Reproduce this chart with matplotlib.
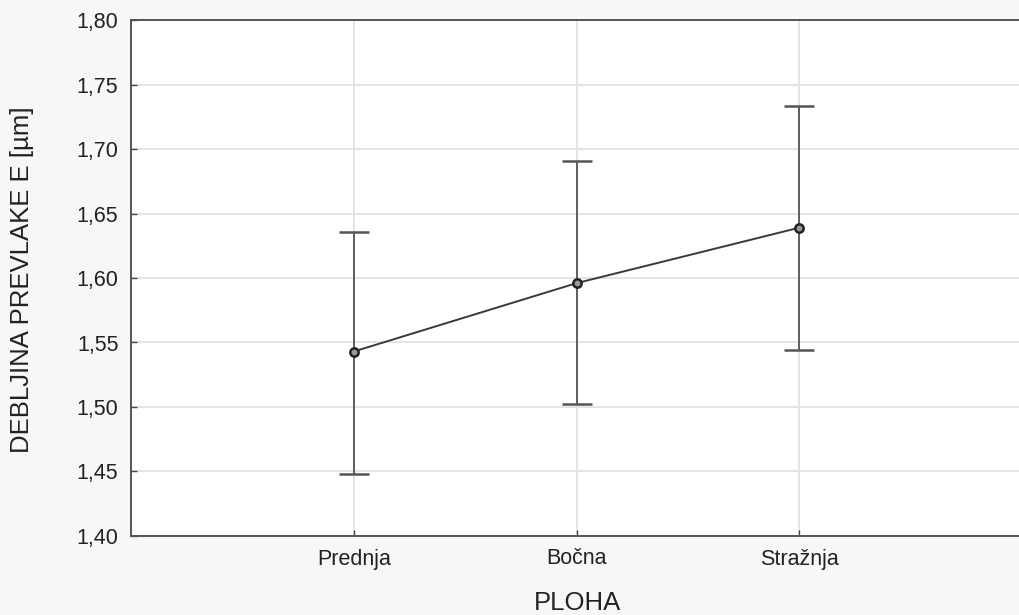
import matplotlib
matplotlib.use("Agg")
import matplotlib.pyplot as plt
import numpy as np

categories = ["Prednja", "Bočna", "Stražnja"]
means = [1.543, 1.596, 1.639]
upper = [1.636, 1.691, 1.733]
lower = [1.448, 1.502, 1.544]
yticks = [1.40, 1.45, 1.50, 1.55, 1.60, 1.65, 1.70, 1.75, 1.80]

plt.rcParams['font.family'] = ['Liberation Sans', 'DejaVu Sans']

W, H = 1019, 615
fig = plt.figure(figsize=(W/100, H/100), dpi=100, facecolor='#f7f7f7')
ax = fig.add_axes([131/W, 1-536/H, (1022-131)/W, (536-20)/H])
ax.set_facecolor('white')

x = np.arange(1, len(categories)+1)
m = np.array(means)
err = [m - np.array(lower), np.array(upper) - m]
ax.errorbar(x, m, yerr=err, fmt='-o', color='#3a3a3a', ecolor='#555555',
            elinewidth=1.3, capsize=11, capthick=1.3, lw=1.4,
            markersize=6, markerfacecolor='#9a9a9a', markeredgecolor='#222222',
            markeredgewidth=1.8, zorder=3)

ax.set_xlim(0, 4)
ax.set_ylim(1.40, 1.80)
ax.set_xticks(x)
ax.set_xticklabels(categories, fontsize=15.5, color='#222222')
ax.set_yticks(yticks)
ax.set_yticklabels([f"{v:.2f}".replace('.', ',') for v in yticks], fontsize=15.5,
                   color='#222222')
ax.grid(True, color='#e2e2e2', lw=1.3, zorder=0)
ax.set_axisbelow(True)
ax.tick_params(axis='both', direction='in', length=4, color='#444444', width=1, pad=9)
for s in ax.spines.values():
    s.set_color('#555555')
    s.set_linewidth(1.4)
ax.spines['right'].set_visible(False)

fig.text(578/W, 1-603/H, "PLOHA", fontsize=18.5, ha='center', va='center', color='#222222')
fig.text(22/W, 1-280/H, "DEBLJINA PREVLAKE E [µm]", fontsize=18.5, rotation=90,
         ha='center', va='center', color='#222222')

fig.savefig("out.png", dpi=100, facecolor=fig.get_facecolor())
